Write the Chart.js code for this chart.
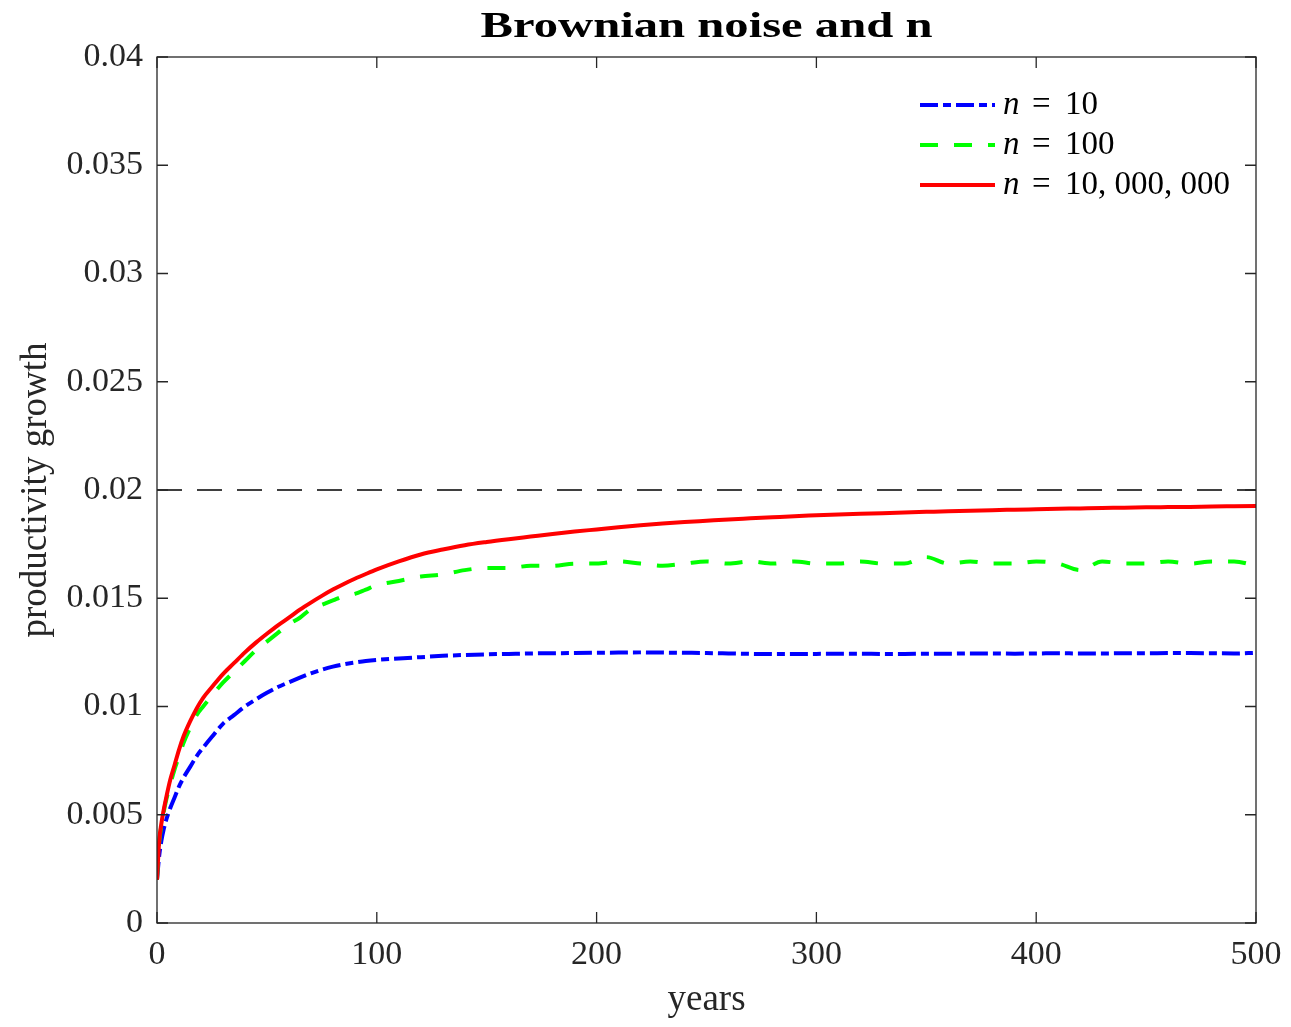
<!DOCTYPE html>
<html>
<head>
<meta charset="utf-8">
<script src="https://cdn.jsdelivr.net/npm/chart.js@4.4.1/dist/chart.umd.min.js"></script>
<style>
  html, body { margin: 0; padding: 0; background: #fff; overflow: hidden; }
  #wrap { width: 1291px; height: 1027px; position: relative; }
</style>
</head>
<body>
<div id="wrap"><canvas id="chart"></canvas></div>
<script>
// Data
const years = [0, 1, 2, 3, 4, 6, 8, 10, 12, 15, 18, 21, 25, 30, 35, 40, 45, 50, 55, 60, 65, 70, 75, 80, 85, 90, 95, 100,
  110, 120, 130, 140, 150, 160, 170, 180, 190, 200, 210, 220, 230, 240, 250, 260, 270, 280, 290, 300,
  310, 320, 330, 340, 350, 360, 370, 380, 390, 400, 410, 420, 430, 440, 450, 460, 470, 480, 490, 500];

const n10 = [0.0020, 0.0031, 0.0038, 0.0043, 0.0047, 0.0053, 0.0058, 0.0063, 0.0067, 0.0072, 0.0077, 0.0081,
  0.0086, 0.0092, 0.0096, 0.0100, 0.01033, 0.01063, 0.0109, 0.01112, 0.01133, 0.01153, 0.0117, 0.01184, 0.01195,
  0.01203, 0.0121, 0.01215,
  0.01222, 0.01228, 0.01234, 0.01238, 0.01241, 0.01243, 0.01245, 0.01246, 0.01247, 0.01248,
  0.01249, 0.0125, 0.01249, 0.01248, 0.01247, 0.01245, 0.01243, 0.01242, 0.01242, 0.01243,
  0.01244, 0.01244, 0.01243, 0.01243, 0.01244, 0.01244, 0.01245, 0.01245, 0.01244, 0.01245,
  0.01246, 0.01245, 0.01245, 0.01246, 0.01246, 0.01247, 0.01247, 0.01246, 0.01245, 0.01248];

const n100 = [0.0020, 0.0037, 0.0045, 0.0051, 0.0056, 0.0064, 0.0071, 0.0077, 0.0083, 0.0090, 0.0096, 0.0100,
  0.0105, 0.0111, 0.0116, 0.0121, 0.0126, 0.0130, 0.0134, 0.0138, 0.0141, 0.0145, 0.0147, 0.0149, 0.0151,
  0.0152, 0.0154, 0.0156,
  0.0158, 0.0160, 0.0161, 0.0163, 0.0164, 0.0164, 0.0165, 0.0165, 0.0166, 0.0166,
  0.0167, 0.0166, 0.0165, 0.0166, 0.0167, 0.0166, 0.0167, 0.0166, 0.0167, 0.0166,
  0.0166, 0.0167, 0.0166, 0.0166, 0.0169, 0.0166, 0.0167, 0.0166, 0.0166, 0.0167,
  0.0166, 0.0163, 0.0167, 0.0166, 0.0166, 0.0167, 0.0166, 0.0167, 0.0167, 0.0165];

const n10m = [0.0020, 0.0038, 0.0046, 0.0052, 0.0057, 0.0066, 0.0073, 0.0080, 0.0086, 0.0093, 0.0099, 0.0104,
  0.0109, 0.0115, 0.0120, 0.0125, 0.01295, 0.01336, 0.01375, 0.0141, 0.01447, 0.0148, 0.01511, 0.0154, 0.01566,
  0.0159, 0.01612, 0.01633,
  0.0167, 0.01702, 0.01725, 0.01745, 0.0176, 0.01773, 0.01785, 0.01797, 0.01808, 0.01818,
  0.01828, 0.01837, 0.01845, 0.01852, 0.01858, 0.01864, 0.01869, 0.01874, 0.01879, 0.01883,
  0.01887, 0.0189, 0.01893, 0.01896, 0.01899, 0.01902, 0.01904, 0.01907, 0.01909, 0.01911,
  0.01913, 0.01915, 0.01917, 0.01918, 0.0192, 0.01921, 0.01922, 0.01924, 0.01925, 0.01926];

const steadyState = 0.02;
const seriesNames = ['10', '100', '10, 000, 000'];
const xTicks = [0, 100, 200, 300, 400, 500];
const yTicks = [0, 0.005, 0.01, 0.015, 0.02, 0.025, 0.03, 0.035, 0.04];

const serif = "'Liberation Serif', 'Times New Roman', serif";
const ink = '#262626';

const toPoints = vals => vals.map((v, i) => ({ x: years[i], y: v }));

// frame, inner ticks, title and legend
const decorPlugin = {
  id: 'decor',
  afterDraw(chart) {
    const { ctx, chartArea: a, scales: { x, y } } = chart;
    ctx.save();
    ctx.strokeStyle = ink;
    ctx.lineWidth = 1.3;
    ctx.setLineDash([]);
    ctx.strokeRect(a.left, a.top, a.right - a.left, a.bottom - a.top);
    ctx.beginPath();
    xTicks.forEach(v => {
      const px = x.getPixelForValue(v);
      ctx.moveTo(px, a.bottom); ctx.lineTo(px, a.bottom - 11);
      ctx.moveTo(px, a.top); ctx.lineTo(px, a.top + 11);
    });
    yTicks.forEach(v => {
      const py = y.getPixelForValue(v);
      ctx.moveTo(a.left, py); ctx.lineTo(a.left + 11, py);
      ctx.moveTo(a.right, py); ctx.lineTo(a.right - 11, py);
    });
    ctx.stroke();

    // title, stretched a little like the bold extended TeX face
    const title = 'Brownian noise and n';
    ctx.fillStyle = '#000';
    ctx.font = 'bold 36px ' + serif;
    ctx.textAlign = 'center';
    ctx.textBaseline = 'alphabetic';
    const w = ctx.measureText(title).width;
    const k = Math.min(1.4, 452 / w);
    ctx.save();
    ctx.translate((a.left + a.right) / 2, 37);
    ctx.scale(k, 1);
    ctx.fillText(title, 0, 0);
    ctx.restore();

    // legend
    const rows = [105, 145, 185];
    chart.data.datasets.slice(0, 3).forEach((ds, i) => {
      const ly = rows[i];
      ctx.strokeStyle = ds.borderColor;
      ctx.lineWidth = ds.borderWidth;
      ctx.setLineDash(ds.borderDash || []);
      ctx.beginPath();
      ctx.moveTo(920, ly); ctx.lineTo(995, ly);
      ctx.stroke();
      ctx.setLineDash([]);
      ctx.fillStyle = '#000';
      ctx.textAlign = 'left';
      ctx.textBaseline = 'middle';
      ctx.font = 'italic 33px ' + serif;
      ctx.fillText('n', 1003, ly);
      ctx.font = '33px ' + serif;
      ctx.fillText('=', 1032, ly);
      ctx.fillText(seriesNames[i], 1065, ly);
    });
    ctx.restore();
  }
};

new Chart(document.getElementById('chart'), {
  type: 'line',
  data: {
    datasets: [
      {
        label: 'n = ' + seriesNames[0],
        data: toPoints(n10),
        borderColor: '#0000ff',
        borderWidth: 4,
        borderDash: [18, 5, 8, 5],
        order: 3
      },
      {
        label: 'n = ' + seriesNames[1],
        data: toPoints(n100),
        borderColor: '#00ff00',
        borderWidth: 4,
        borderDash: [18, 16],
        order: 2
      },
      {
        label: 'n = ' + seriesNames[2],
        data: toPoints(n10m),
        borderColor: '#ff0000',
        borderWidth: 4,
        order: 1
      },
      {
        label: 'steady state',
        data: [{ x: 0, y: steadyState }, { x: 500, y: steadyState }],
        borderColor: '#000',
        borderWidth: 1.3,
        borderDash: [25, 15],
        order: 4
      }
    ]
  },
  options: {
    responsive: true,
    maintainAspectRatio: false,
    animation: false,
    layout: { padding: { left: 0, top: 57, right: 35, bottom: 0 } },
    elements: {
      point: { radius: 0 },
      line: { cubicInterpolationMode: 'monotone', fill: false }
    },
    plugins: {
      legend: { display: false },
      title: { display: false },
      tooltip: { enabled: false }
    },
    scales: {
      x: {
        type: 'linear',
        min: 0,
        max: 500,
        afterFit: s => { s.height = 104; },
        afterBuildTicks: s => { s.ticks = xTicks.map(v => ({ value: v })); },
        grid: { display: false, drawTicks: false },
        border: { display: false },
        ticks: {
          padding: 8,
          maxRotation: 0,
          autoSkip: false,
          color: ink,
          font: { family: serif, size: 34, lineHeight: 1.4 }
        },
        title: {
          display: true,
          text: 'years',
          color: ink,
          font: { family: serif, size: 37 },
          padding: { top: 0, bottom: 5 }
        }
      },
      y: {
        min: 0,
        max: 0.04,
        afterFit: s => { s.width = 157; },
        afterBuildTicks: s => { s.ticks = yTicks.map(v => ({ value: v })); },
        grid: { display: false, drawTicks: false },
        border: { display: false },
        ticks: {
          padding: 14,
          autoSkip: false,
          color: ink,
          font: { family: serif, size: 34 },
          callback: v => String(+v.toFixed(3))
        },
        title: {
          display: true,
          text: 'productivity growth',
          color: ink,
          font: { family: serif, size: 37 },
          padding: { top: 14, bottom: 0 }
        }
      }
    }
  },
  plugins: [decorPlugin]
});
</script>
</body>
</html>
